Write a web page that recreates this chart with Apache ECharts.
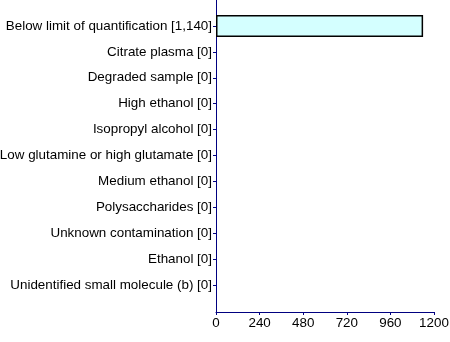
<!DOCTYPE html>
<html>
<head>
<meta charset="utf-8">
<script src="https://cdn.jsdelivr.net/npm/echarts@6/dist/echarts.min.js"></script>
<style>html,body{margin:0;padding:0;background:#fff}#c{width:450px;height:342px}</style>
</head>
<body>
<div id="c"></div>
<script>
var categories = ["Below limit of quantification", "Citrate plasma", "Degraded sample", "High ethanol", "Isopropyl alcohol", "Low glutamine or high glutamate", "Medium ethanol", "Polysaccharides", "Unknown contamination", "Ethanol", "Unidentified small molecule (b)"];
var values = [1140, 0, 0, 0, 0, 0, 0, 0, 0, 0, 0];
var xTicks = [0, 240, 480, 720, 960, 1200];

var labels = categories.map(function (c, i) { return c + ' [' + values[i].toLocaleString('en-US') + ']'; });
var chart = echarts.init(document.getElementById('c'), null, {renderer: 'canvas'});
var font = 'Liberation Sans, Arial, sans-serif';
var navy = '#000080';
chart.setOption({
  animation: false,
  grid: [
    {left: 216, right: 16, top: 0, bottom: 30, containLabel: false, outerBoundsMode: 'none'},
    {left: 216, right: 16, top: 13, bottom: 44, containLabel: false, outerBoundsMode: 'none'}
  ],
  xAxis: [
    {gridIndex: 0, type: 'value', min: xTicks[0], max: xTicks[xTicks.length - 1], interval: 240,
     axisLine: {show: true, lineStyle: {color: navy, width: 1}},
     axisTick: {show: true, length: 3, lineStyle: {color: navy}},
     axisLabel: {color: '#000', fontFamily: font, fontSize: 13.4, margin: 5, formatter: function (v) { return String(v); }},
     splitLine: {show: false}},
    {gridIndex: 1, type: 'value', min: xTicks[0], max: xTicks[xTicks.length - 1], interval: 240, show: false}
  ],
  yAxis: [
    {gridIndex: 0, type: 'category', data: [''], axisLine: {show: true, lineStyle: {color: navy}},
     axisTick: {show: false}, axisLabel: {show: false}},
    {gridIndex: 1, type: 'category', data: labels, inverse: true,
     axisLine: {show: false},
     axisTick: {show: true, alignWithLabel: true, length: 3, lineStyle: {color: navy}},
     axisLabel: {color: '#000', fontFamily: font, fontSize: 13.4, margin: 4}}
  ],
  series: [{
    type: 'bar', xAxisIndex: 1, yAxisIndex: 1, barWidth: '85%',
    data: values.map(function (v) { return {value: v, itemStyle: {borderWidth: v === 0 ? 0 : 1.5}}; }),
    itemStyle: {color: '#d4ffff', borderColor: '#000'}
  }]
});
</script>
</body>
</html>
